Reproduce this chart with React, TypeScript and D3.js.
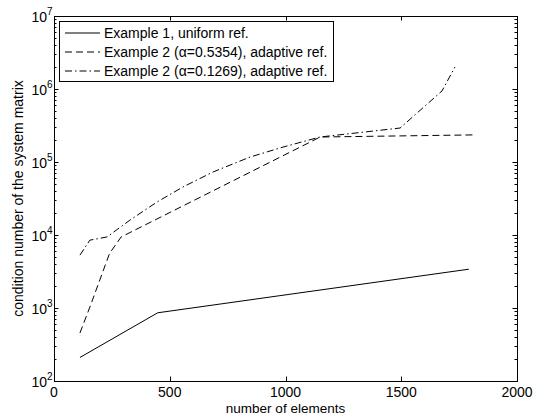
import { useEffect, useRef } from "react";
import * as d3 from "d3";

// Example 1, uniform refinement
const elems1 = [112, 448, 1792];
const cond1 = [210, 860, 3400];

// Example 2 (alpha=0.5354), adaptive refinement
const elems2 = [112, 155, 240, 290, 1150, 1810];
const cond2 = [455, 1030, 5600, 9400, 220000, 235000];

// Example 2 (alpha=0.1269), adaptive refinement
const elems3 = [112, 155, 229, 328, 445, 557, 687, 847, 989, 1149, 1495, 1676, 1732];
const cond3 = [5300, 8500, 9400, 16000, 28300, 45500, 73000, 117000, 160000, 220000, 292000, 940000, 2000000];

const legendLabels = [
    "Example 1, uniform ref.",
    "Example 2 (\u03b1=0.5354), adaptive ref.",
    "Example 2 (\u03b1=0.1269), adaptive ref.",
];
const dashes = [null, "7,4", "7,3,1.5,3"];

const xTicks = [0, 500, 1000, 1500, 2000];

export default function App() {
    const ref = useRef(null);

    useEffect(() => {
        const svg = d3.select(ref.current);
        svg.selectAll("*").remove();

        const margin = { top: 16, right: 16, bottom: 36, left: 54 };
        const W = 533, H = 417;
        const left = margin.left, right = W - margin.right;
        const top = margin.top, bottom = H - margin.bottom;
        const font = "'Liberation Sans', Arial, Helvetica, sans-serif";

        const x = d3.scaleLinear().domain([0, 2000]).range([left, right]);
        const y = d3.scaleLog().domain([1e2, 1e7]).range([bottom, top]);

        svg.append("rect").attr("width", W).attr("height", H).attr("fill", "#fff");

        const series = [
            elems1.map((d, i) => ({ x: d, y: cond1[i] })),
            elems2.map((d, i) => ({ x: d, y: cond2[i] })),
            elems3.map((d, i) => ({ x: d, y: cond3[i] })),
        ];

        const line = d3.line().x(d => x(d.x)).y(d => y(d.y));

        series.forEach((s, i) => {
            const p = svg.append("path")
                .attr("d", line(s))
                .attr("fill", "none")
                .attr("stroke", "#000")
                .attr("stroke-width", 1);
            if (dashes[i]) p.attr("stroke-dasharray", dashes[i]);
        });

        const g = svg.append("g").attr("stroke", "#000").attr("stroke-width", 1);

        // x ticks (inward, top and bottom)
        xTicks.forEach(t => {
            const px = Math.round(x(t)) + 0.5;
            g.append("line").attr("x1", px).attr("x2", px).attr("y1", bottom).attr("y2", bottom - 4.5);
            g.append("line").attr("x1", px).attr("x2", px).attr("y1", top).attr("y2", top + 4.5);
            svg.append("text")
                .attr("x", x(t)).attr("y", bottom + 16)
                .attr("text-anchor", "middle")
                .attr("font-family", font).attr("font-size", 14)
                .text(t);
        });

        // y ticks (log, with minors)
        y.ticks().forEach(t => {
            const lg = Math.log10(t);
            const major = Math.abs(lg - Math.round(lg)) < 1e-9;
            const len = major ? 4.5 : 2.5;
            const py = Math.round(y(t)) + 0.5;
            g.append("line").attr("x1", left).attr("x2", left + len).attr("y1", py).attr("y2", py);
            g.append("line").attr("x1", right).attr("x2", right - len).attr("y1", py).attr("y2", py);
            if (major) {
                svg.append("text")
                    .attr("x", 47).attr("y", y(t) + 5.5)
                    .attr("text-anchor", "end")
                    .attr("font-family", font).attr("font-size", 14)
                    .text("10");
                svg.append("text")
                    .attr("x", 47).attr("y", y(t) - 1)
                    .attr("font-family", font).attr("font-size", 10)
                    .text(Math.round(lg));
            }
        });

        // axes box
        svg.append("rect")
            .attr("x", left + 0.5).attr("y", top + 0.5)
            .attr("width", right - left).attr("height", bottom - top)
            .attr("fill", "none").attr("stroke", "#000").attr("stroke-width", 1);

        // axis labels
        svg.append("text")
            .attr("x", (left + right) / 2).attr("y", 413)
            .attr("text-anchor", "middle")
            .attr("font-family", font).attr("font-size", 13.5)
            .text("number of elements");

        svg.append("text")
            .attr("transform", "translate(23," + (top + bottom) / 2 + ") rotate(-90)")
            .attr("text-anchor", "middle")
            .attr("font-family", font).attr("font-size", 14)
            .text("condition number of the system matrix");

        // legend
        const lg = svg.append("g");
        lg.append("rect")
            .attr("x", 59.5).attr("y", 21.5).attr("width", 274).attr("height", 60)
            .attr("fill", "#fff").attr("stroke", "#000").attr("stroke-width", 1);
        legendLabels.forEach((lab, i) => {
            const ly = 33 + i * 19;
            const l = lg.append("line")
                .attr("x1", 65).attr("x2", 100).attr("y1", ly).attr("y2", ly)
                .attr("stroke", "#000").attr("stroke-width", 1);
            if (dashes[i]) l.attr("stroke-dasharray", dashes[i]);
            lg.append("text")
                .attr("x", 104).attr("y", ly + 5)
                .attr("font-family", font).attr("font-size", 14)
                .text(lab);
        });
    }, []);

    return (
        <div>
            <svg ref={ref} width={533} height={417} style={{ position: "absolute", left: 0, top: 0 }} />
        </div>
    );
}
